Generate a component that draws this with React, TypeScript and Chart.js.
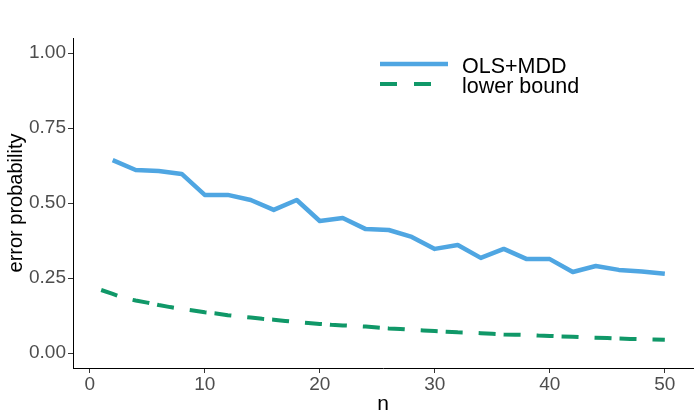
import React, { useEffect, useRef } from "react";
import { Chart, registerables } from "chart.js";

Chart.register(...registerables);

const seriesNames = ["OLS+MDD", "lower bound"];
const seriesColors = ["#4fa6e2", "#109868"];

const olsN = [2, 4, 6, 8, 10, 12, 14, 16, 18, 20, 22, 24, 26, 28, 30, 32, 34, 36, 38, 40, 42, 44, 46, 48, 50];
const olsValues = [
  0.643, 0.61, 0.607, 0.597, 0.527, 0.527, 0.51, 0.477, 0.51, 0.44, 0.45, 0.413, 0.41,
  0.387, 0.347, 0.36, 0.317, 0.347, 0.313, 0.313, 0.27, 0.29, 0.277, 0.272, 0.264,
];

const boundN = [
  1, 2, 3, 4, 5, 6, 7, 8, 9, 10, 11, 12, 13, 14, 15, 16, 17, 18, 19, 20, 21, 22, 23, 24, 25,
  26, 27, 28, 29, 30, 31, 32, 33, 34, 35, 36, 37, 38, 39, 40, 41, 42, 43, 44, 45, 46, 47, 48, 49, 50,
];
const boundValues = [
  0.21, 0.197, 0.183, 0.175, 0.168, 0.16, 0.153, 0.147, 0.142, 0.136, 0.132, 0.126, 0.122,
  0.118, 0.114, 0.111, 0.107, 0.103, 0.1, 0.097, 0.094, 0.092, 0.09, 0.088, 0.085, 0.082,
  0.08, 0.077, 0.075, 0.073, 0.071, 0.069, 0.068, 0.066, 0.064, 0.062, 0.061, 0.06, 0.058,
  0.057, 0.055, 0.054, 0.052, 0.051, 0.05, 0.048, 0.047, 0.046, 0.045, 0.044,
];

const xTicks = [0, 10, 20, 30, 40, 50];
const yTicks = [0, 0.25, 0.5, 0.75, 1.0];
const xTitle = "n";
const yTitle = "error probability";

const FONT = "'Liberation Sans', Arial, sans-serif";

const legendPlugin = {
  id: "customLegend",
  afterDraw(chart: any) {
    const ctx = chart.ctx;
    ctx.save();
    const rows = [
      { y: 64, text: seriesNames[0], color: seriesColors[0], dash: [] as number[], width: 4.5, base: 73 },
      { y: 84, text: seriesNames[1], color: seriesColors[1], dash: [17, 17], width: 4, base: 93 },
    ];
    rows.forEach((r) => {
      ctx.beginPath();
      ctx.setLineDash(r.dash);
      ctx.strokeStyle = r.color;
      ctx.lineWidth = r.width;
      ctx.lineCap = "butt";
      ctx.moveTo(380, r.y);
      ctx.lineTo(448, r.y);
      ctx.stroke();
      ctx.setLineDash([]);
      ctx.fillStyle = "#000000";
      ctx.font = `21.5px ${FONT}`;
      ctx.textBaseline = "alphabetic";
      ctx.textAlign = "left";
      ctx.fillText(r.text, 462, r.base);
    });
    ctx.restore();
  },
};

export default function App() {
  const ref = useRef<HTMLCanvasElement | null>(null);

  useEffect(() => {
    document.body.style.margin = "0";
    const canvas = ref.current;
    if (!canvas) return;
    const chart = new Chart(canvas, {
      type: "line",
      data: {
        datasets: [
          {
            label: seriesNames[0],
            data: olsN.map((n, i) => ({ x: n, y: olsValues[i] })),
            borderColor: seriesColors[0],
            borderWidth: 4.5,
            pointRadius: 0,
            tension: 0,
            fill: false,
            borderJoinStyle: "round",
          },
          {
            label: seriesNames[1],
            data: boundN.map((n, i) => ({ x: n, y: boundValues[i] })),
            borderColor: seriesColors[1],
            borderWidth: 4,
            borderDash: [17, 16, 17, 8],
            pointRadius: 0,
            tension: 0,
            fill: false,
          },
        ],
      },
      options: {
        animation: false,
        responsive: true,
        maintainAspectRatio: false,
        layout: { padding: { top: 38, right: 7, left: 0, bottom: 0 } },
        plugins: {
          legend: { display: false },
          tooltip: { enabled: false },
        },
        scales: {
          x: {
            type: "linear",
            min: -1.45,
            max: 52.45,
            afterBuildTicks: (s: any) => {
              s.ticks = xTicks.map((v) => ({ value: v }));
            },
            afterFit: (s: any) => {
              s.height = 52;
            },
            grid: {
              display: true,
              drawOnChartArea: false,
              drawTicks: true,
              tickLength: 5,
              color: "#333333",
              lineWidth: 1,
            },
            border: { display: true, color: "#000000", width: 1 },
            ticks: {
              color: "#4d4d4d",
              font: { family: FONT, size: 19 },
              padding: 0,
              maxRotation: 0,
              callback: (v: any) => String(v),
            },
            title: {
              display: true,
              text: xTitle,
              color: "#000000",
              font: { family: FONT, size: 21 },
              padding: { top: 0, bottom: 3 },
            },
          },
          y: {
            type: "linear",
            min: -0.05,
            max: 1.05,
            afterBuildTicks: (s: any) => {
              s.ticks = yTicks.map((v) => ({ value: v }));
            },
            afterFit: (s: any) => {
              s.width = 73;
            },
            grid: {
              display: true,
              drawOnChartArea: false,
              drawTicks: true,
              tickLength: 5,
              color: "#333333",
              lineWidth: 1,
            },
            border: { display: true, color: "#000000", width: 1 },
            ticks: {
              color: "#4d4d4d",
              font: { family: FONT, size: 19 },
              padding: 2,
              callback: (v: any) => Number(v).toFixed(2),
            },
            title: {
              display: true,
              text: yTitle,
              color: "#000000",
              font: { family: FONT, size: 20 },
              padding: { top: 4, bottom: 0 },
            },
          },
        },
      },
      plugins: [legendPlugin],
    });
    return () => chart.destroy();
  }, []);

  return (
    <div style={{ width: 700, height: 420, position: "relative", background: "#ffffff" }}>
      <canvas ref={ref} />
    </div>
  );
}
